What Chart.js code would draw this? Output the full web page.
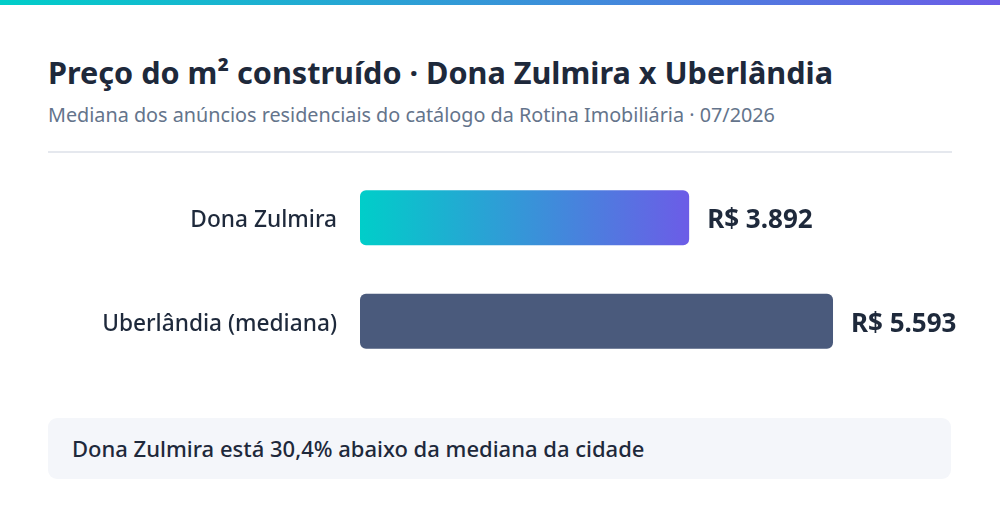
<!DOCTYPE html>
<html lang="pt-BR">
<head>
<meta charset="utf-8">
<script src="https://cdn.jsdelivr.net/npm/chart.js@4"></script>
<style>
  html, body { margin: 0; padding: 0; background: #fff; }
  body { width: 1000px; height: 520px; position: relative; overflow: hidden; font-family: "Noto Sans", sans-serif; }
  .topbar { position: absolute; left: 0; top: 0; width: 1000px; height: 5px; background: linear-gradient(90deg, #00cec9, #6c5ce7); }
  h1 { position: absolute; left: 48px; top: 52px; margin: 0; font-size: 30.6px; font-weight: 700; color: #1e293b; line-height: 40px; white-space: nowrap; }
  .sub { position: absolute; left: 48px; top: 101px; margin: 0; font-size: 19.8px; color: #64748b; line-height: 28px; white-space: nowrap; }
  .rule { position: absolute; left: 48px; top: 151px; width: 904px; height: 2px; background: #e5e8ee; }
  .wrap { position: absolute; left: 48px; top: 165px; width: 952px; height: 208px; }
  .note { position: absolute; left: 48px; top: 418px; width: 903px; height: 61px; background: #f4f6fa; border-radius: 9px; box-sizing: border-box; padding-left: 24px; font-size: 22px; font-weight: 500; color: #1e293b; line-height: 61px; white-space: nowrap; }
</style>
</head>
<body>
<div class="topbar"></div>
<h1 id="title"></h1>
<p class="sub" id="subtitle"></p>
<div class="rule"></div>
<div class="wrap"><canvas id="chart" width="952" height="208"></canvas></div>
<div class="note" id="note"></div>
<script>
const titleText = "Preço do m² construído · Dona Zulmira x Uberlândia";
const subtitleText = "Mediana dos anúncios residenciais do catálogo da Rotina Imobiliária · 07/2026";
const categories = ["Dona Zulmira", "Uberlândia (mediana)"];
const pricePerM2 = [3892, 5593];
const noteText = "Dona Zulmira está 30,4% abaixo da mediana da cidade";

document.getElementById("title").textContent = titleText;
document.getElementById("subtitle").textContent = subtitleText;
document.getElementById("note").textContent = noteText;

const brl = v => "R$ " + String(v).replace(/\B(?=(\d{3})+(?!\d))/g, ".");

// rótulo de valor na ponta da barra
const valueLabels = {
  id: "valueLabels",
  beforeDraw(chart) {
    // desce um pouco os rótulos das categorias
    chart.scales.y.getLabelItems().forEach(item => {
      if (!item._moved) { item.options.translation[1] += 3; item._moved = true; }
    });
  },
  afterDatasetsDraw(chart) {
    const { ctx } = chart;
    const meta = chart.getDatasetMeta(0);
    ctx.save();
    ctx.font = "700 26px 'Noto Sans'";
    ctx.fillStyle = "#1e293b";
    ctx.textBaseline = "middle";
    meta.data.forEach((bar, i) => {
      ctx.fillText(brl(chart.data.datasets[0].data[i]), bar.x + 18, bar.y + 3);
    });
    ctx.restore();
  }
};

const barColor = (c) => {
  if (c.dataIndex !== 0) return "#4a5a7c";
  const { ctx, chartArea } = c.chart;
  if (!chartArea) return "#00cec9";
  const x = c.chart.scales.x;
  const x0 = x.getPixelForValue(0);
  const x1 = x.getPixelForValue(c.raw);
  const g = ctx.createLinearGradient(x0, 0, x1, 0);
  g.addColorStop(0, "#00cec9");
  g.addColorStop(1, "#6c5ce7");
  return g;
};

new Chart(document.getElementById("chart"), {
  type: "bar",
  data: {
    labels: categories,
    datasets: [{
      data: pricePerM2,
      backgroundColor: barColor,
      borderRadius: 6,
      borderSkipped: false,
      barPercentage: 0.53,
      categoryPercentage: 1,
    }],
  },
  options: {
    indexAxis: "y",
    responsive: false,
    animation: false,
    layout: { padding: { left: 0, right: 48, top: 1, bottom: 0 } },
    scales: {
      x: {
        min: 0,
        max: 7000,
        display: false,
      },
      y: {
        grid: { display: false },
        border: { display: false },
        ticks: {
          padding: 15,
          color: "#1e293b",
          font: { family: "Noto Sans", size: 22.7, weight: "500" },
        },
        afterFit(scale) {
          scale.width = 312;
          // the tick padding also pads top/bottom; drop that
          scale.paddingTop = 0;
          scale.paddingBottom = 0;
        },
      },
    },
    plugins: {
      legend: { display: false },
      tooltip: { enabled: false },
    },
  },
  plugins: [valueLabels],
});
</script>
</body>
</html>
